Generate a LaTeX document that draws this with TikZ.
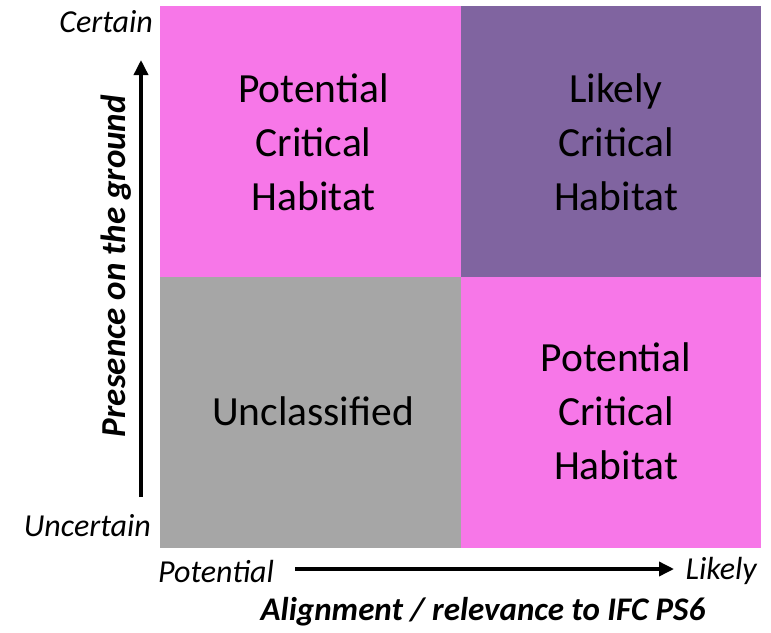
\documentclass[tikz,border=0pt]{standalone}
\usepackage{fontspec}
\setmainfont{Carlito}
\usetikzlibrary{arrows.meta}

\definecolor{pinkcell}{HTML}{F777E8}
\definecolor{purplecell}{HTML}{8064A0}
\definecolor{greycell}{HTML}{A6A6A6}

\begin{document}
\begin{tikzpicture}[x=1pt,y=-1pt,
    cell/.style={minimum width=301pt, minimum height=271pt, inner sep=0pt},
    celltext/.style={inner sep=0pt, align=center, font=\fontsize{41.5}{54}\selectfont},
    endlabel/.style={inner sep=0pt, font=\fontsize{32}{38}\selectfont\itshape},
    axistitle/.style={inner sep=0pt, font=\fontsize{33}{39}\selectfont\bfseries\itshape},
    axisarrow/.style={line width=3.5pt, -{Triangle[length=15pt,width=14pt]}}]
        \useasboundingbox (0,0) rectangle (771,632);

        % Quadrants
        \node[cell, fill=pinkcell] (potentialtop) at (310.5,141.5) {};
        \node[cell, fill=purplecell, minimum width=300pt] (likely) at (611,141.5) {};
        \node[cell, fill=greycell] (unclassified) at (310.5,412.5) {};
        \node[cell, fill=pinkcell, minimum width=300pt] (potentialbottom) at (611,412.5) {};

        % Quadrant texts
        \node[celltext] at (313.5,142) {Potential\\Critical\\Habitat};
        \node[celltext] at (616,142) {Likely\\Critical\\Habitat};
        \node[celltext] at (313,411) {Unclassified};
        \node[celltext] at (616,411) {Potential\\Critical\\Habitat};

        % Vertical axis
        \coordinate (ybottom) at (141,497);
        \coordinate (ytop) at (141,60);
        \draw[axisarrow] (ybottom) -- (ytop);
        \node[endlabel, anchor=east] (certain) at (153,22) {Certain};
        \node[endlabel, anchor=east] (uncertain) at (151,526) {Uncertain};
        \node[axistitle, font=\fontsize{35}{41}\selectfont\bfseries\itshape, rotate=90] (presence) at (116,266) {Presence on the ground};

        % Horizontal axis
        \coordinate (xleft) at (295,569);
        \coordinate (xright) at (674,569);
        \draw[axisarrow] (xleft) -- (xright);
        \node[endlabel, anchor=west] (potential) at (158,571) {Potential};
        \node[endlabel, anchor=east] (likelyend) at (757,571) {Likely};
        \node[axistitle] (alignment) at (483,612) {Alignment / relevance to IFC PS6};

    \end{tikzpicture}
\end{document}
